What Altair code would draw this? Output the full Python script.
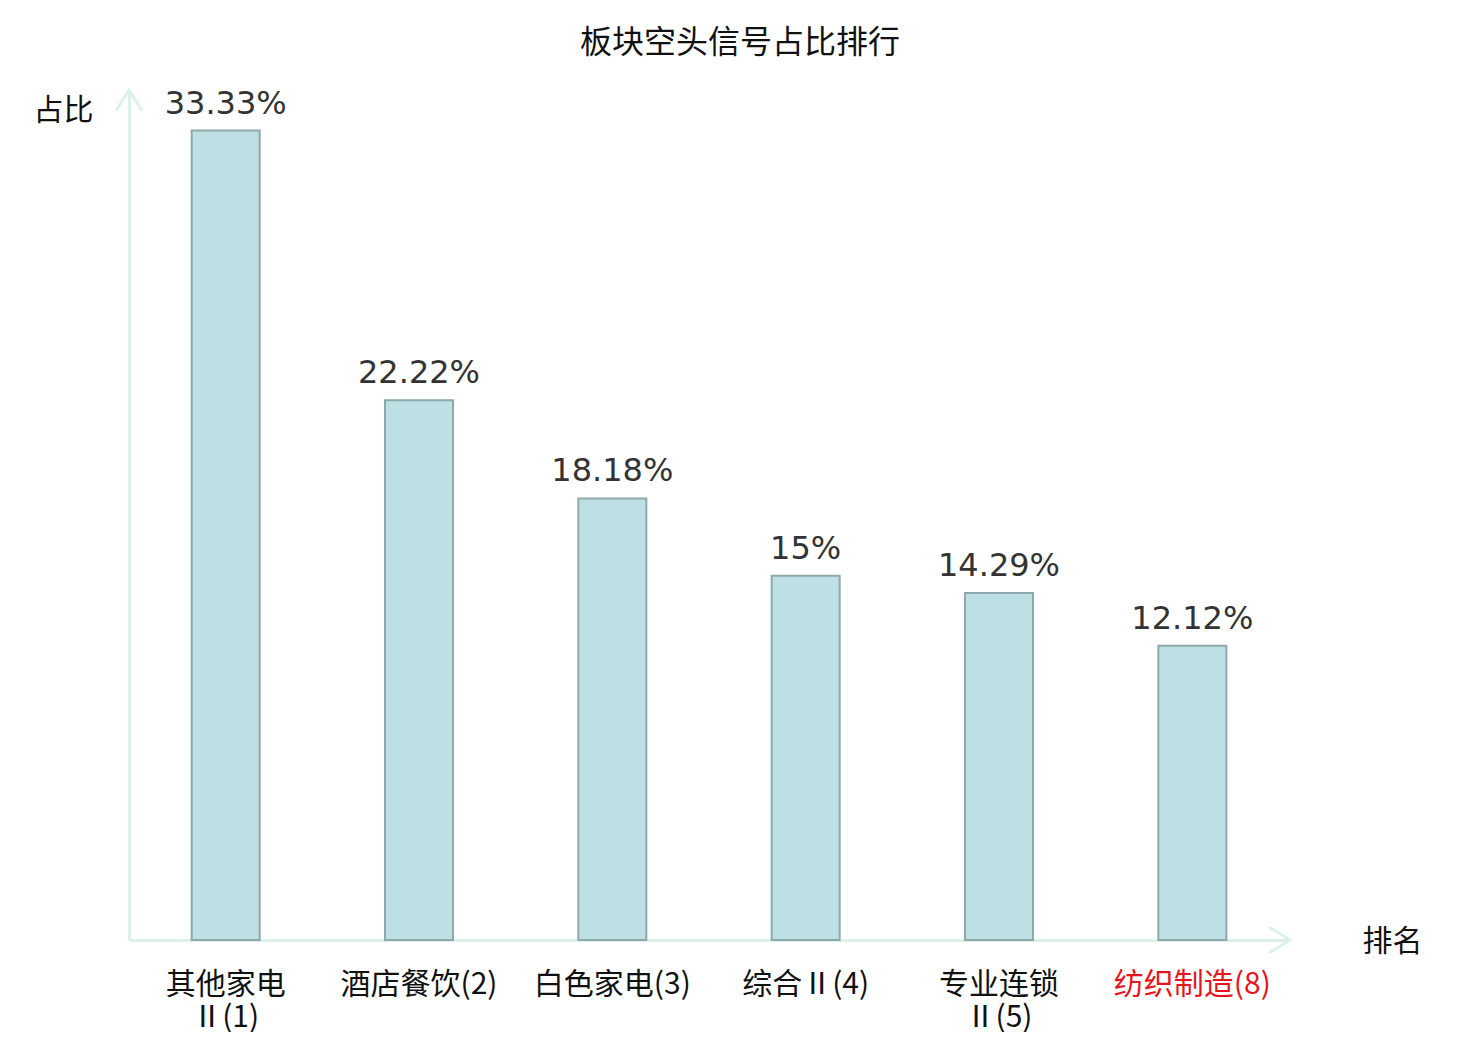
import altair as alt
import pandas as pd

categories = ["其他家电\nⅡ(1)", "酒店餐饮(2)", "白色家电(3)", "综合Ⅱ(4)", "专业连锁\nⅡ(5)", "纺织制造(8)"]
values = [33.33, 22.22, 18.18, 15.0, 14.29, 12.12]
value_labels = ["33.33%", "22.22%", "18.18%", "15%", "14.29%", "12.12%"]
highlight = "纺织制造(8)"

df = pd.DataFrame({"cat": categories, "val": values, "lab": value_labels})

W, H = 1160, 850
AXIS_COLOR = "#dcf1ee"
CJK = "Noto Sans CJK SC"

x_enc = alt.X(
    "cat:N", sort=categories,
    scale=alt.Scale(paddingInner=0, paddingOuter=0),
    axis=alt.Axis(
        title="排名", titleFont=CJK, titleFontSize=30, titleFontWeight="normal",
        titleColor="#111", titleX=1263, titleY=1, titleAlign="center",
        titleBaseline="middle", titleAngle=0,
        labelAngle=0, labelFont=CJK, labelFontSize=30, labelPadding=29,
        labelLineHeight=33, labelBaseline="top",
        labelExpr="split(datum.label, '\\n')",
        labelColor=alt.condition(alt.datum.value == highlight, alt.value("#e8141b"), alt.value("#111")),
        ticks=False, domainColor=AXIS_COLOR, domainWidth=3, grid=False,
    ),
)
y_enc = alt.Y(
    "val:Q", scale=alt.Scale(domain=[0, 35], nice=False, zero=True),
    axis=alt.Axis(
        title="占比", titleFont=CJK, titleFontSize=30, titleFontWeight="normal",
        titleColor="#111", titleAngle=0, titleX=-66, titleY=20,
        titleAlign="center", titleBaseline="middle",
        labels=False, ticks=False, grid=False, domainColor=AXIS_COLOR, domainWidth=3,
    ),
)

base = alt.Chart(df)

bars = base.mark_bar(size=68, fill="#bce0e3", stroke="#8fa8a9", strokeWidth=2).encode(x=x_enc, y=y_enc)

texts = base.mark_text(
    font="DejaVu Sans", fontSize=32, color="#333", baseline="alphabetic", dy=-17
).encode(x=alt.X("cat:N", sort=categories), y="val:Q", text="lab:N")

arrow_df = pd.DataFrame({"v": [35]})
up_arrow = alt.Chart(arrow_df).mark_point(
    shape="M-1,1.6L0,0L1,1.6", size=676, filled=False, stroke=AXIS_COLOR, strokeWidth=3, opacity=1
).encode(x=alt.value(0), y=alt.Y("v:Q", scale=alt.Scale(domain=[0, 35], nice=False)))

right_arrow = alt.Chart(arrow_df).mark_point(
    shape="M-1.6,-1L0,0L-1.6,1", size=676, filled=False, stroke=AXIS_COLOR, strokeWidth=3, opacity=1
).encode(x=alt.value(W + 1), y=alt.value(H))

chart = alt.layer(bars, texts, up_arrow, right_arrow).properties(
    width=W, height=H,
    title=alt.TitleParams(
        "板块空头信号占比排行", font=CJK, fontSize=32, fontWeight="normal",
        color="#111", anchor="middle", dx=31, offset=9, baseline="middle",
    ),
    autosize=alt.AutoSizeParams(type="none"),
    padding={"left": 121, "top": 82, "right": 183, "bottom": 92},
).configure_view(stroke=None)

chart.save("out.html", embed_options={"renderer": "svg", "actions": False})
